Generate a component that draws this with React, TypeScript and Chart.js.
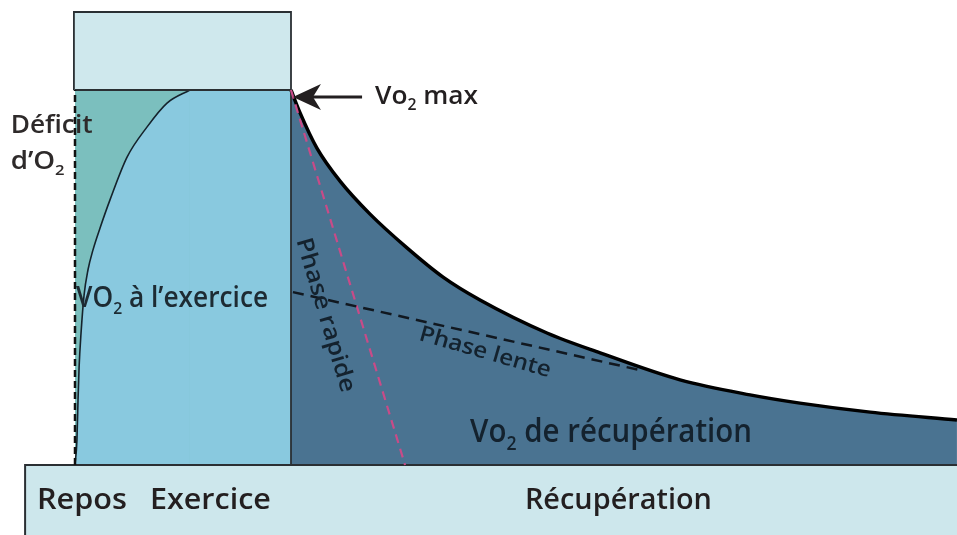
import React, { useEffect, useRef } from "react";
import { Chart, registerables } from "chart.js";

Chart.register(...registerables);

// Axis ranges: time in arbitrary units (exercise from 0 to 10), VO2 in % of VO2max
const X_MIN = -3.472;
const X_MAX = 40.833;
const Y_MIN = -18.667;
const Y_MAX = 124;

// Phases
const exerciseStart = 0;
const exerciseEnd = 10;
const vo2max = 100;
const restBarLeft = -2.31;
const topBoxLeft = -0.05;
const topBoxTop = 120.8;

// VO2 rise at exercise onset
const onsetT = [0, 0.09, 0.14, 0.19, 0.28, 0.42, 0.6, 0.83, 1.16, 1.62, 2.41, 3.33, 4.26, 5.32];
const onsetV = [0, 6.7, 17.3, 26.1, 35.2, 45.3, 52, 57.3, 63.2, 70.7, 82.1, 90.1, 96.5, 100];

// VO2 during recovery
const recoveryT = [10, 10.42, 11.2, 12.27, 13.66, 15.37, 17.04, 18.75, 21.85, 24.31, 28.01, 31.25, 33.56, 36.81, 40.83];
const recoveryV = [100, 93.9, 84.5, 75.7, 66.9, 57.9, 50.1, 44, 35.2, 29.9, 22.7, 18.7, 16.5, 14.1, 12];

// Fast and slow phase guide lines
const fastPhaseT = [10, 15.28];
const fastPhaseV = [100, 0];
const slowPhaseT = [10.09, 26.16];
const slowPhaseV = [46.1, 25.3];

// Colours
const C_TOPBOX = "#cfe8ed";
const C_BAR = "#cde7ec";
const C_EXERCISE = "#89c9df";
const C_DEFICIT = "#7bbfbe";
const C_RECOVERY = "#4a7391";
const C_INK = "#231f20";
const C_INK2 = "#14222e";
const C_PINK = "#c84b88";

const FONT = "'Open Sans', 'Noto Sans', sans-serif";

type Seg = { s: string; sub?: boolean };
type Label = {
  segs: Seg[];
  t: number;
  v: number;
  size: number;
  width: number;
  align: "left" | "center";
  baseline: CanvasTextBaseline;
  rotate: number;
  color: string;
};

const labels: Label[] = [
  { segs: [{ s: "Déficit" }], t: -2.98, v: 88.5, size: 25, width: 82, align: "left", baseline: "alphabetic", rotate: 0, color: "#2e2a2a" },
  { segs: [{ s: "d’O" }, { s: "2", sub: true }], t: -2.98, v: 78.9, size: 25, width: 54, align: "left", baseline: "alphabetic", rotate: 0, color: "#2e2a2a" },
  { segs: [{ s: "VO" }, { s: "2", sub: true }, { s: " à l’exercice" }], t: 0.05, v: 42.1, size: 28, width: 192, align: "left", baseline: "alphabetic", rotate: 0, color: "#1d2b33" },
  { segs: [{ s: "Vo" }, { s: "2", sub: true }, { s: " max" }], t: 13.89, v: 96.3, size: 26, width: 103, align: "left", baseline: "alphabetic", rotate: 0, color: C_INK },
  { segs: [{ s: "Phase rapide" }], t: 11.58, v: 40.0, size: 23, width: 160, align: "center", baseline: "middle", rotate: 73.5, color: C_INK2 },
  { segs: [{ s: "Phase lente" }], t: 18.98, v: 30.0, size: 22, width: 136, align: "center", baseline: "middle", rotate: 16, color: C_INK2 },
  { segs: [{ s: "Vo" }, { s: "2", sub: true }, { s: " de récupération" }], t: 18.29, v: 6.1, size: 32, width: 282, align: "left", baseline: "alphabetic", rotate: 0, color: C_INK2 },
  { segs: [{ s: "Repos" }], t: -1.76, v: -11.8, size: 29, width: 90, align: "left", baseline: "alphabetic", rotate: 0, color: C_INK },
  { segs: [{ s: "Exercice" }], t: 3.47, v: -11.8, size: 29, width: 121, align: "left", baseline: "alphabetic", rotate: 0, color: C_INK },
  { segs: [{ s: "Récupération" }], t: 20.83, v: -11.8, size: 29, width: 187, align: "left", baseline: "alphabetic", rotate: 0, color: C_INK },
];

// Arrow pointing to VO2max
const arrowTipT = 10.09;
const arrowTailT = 13.29;
const arrowV = 98.13;

function pts(ts: number[], vs: number[]) {
  return ts.map((t, i) => ({ x: t, y: vs[i] }));
}

function drawRich(ctx: CanvasRenderingContext2D, L: Label, x: number, y: number) {
  const subSize = L.size * 0.6;
  let natural = 0;
  const widths: number[] = [];
  for (const sg of L.segs) {
    ctx.font = `600 ${sg.sub ? subSize : L.size}px ${FONT}`;
    const w = ctx.measureText(sg.s).width;
    widths.push(w);
    natural += w;
  }
  const sx = L.width / natural;
  ctx.save();
  ctx.translate(x, y);
  ctx.rotate((L.rotate * Math.PI) / 180);
  ctx.scale(sx, 1);
  ctx.fillStyle = L.color;
  ctx.textBaseline = L.baseline;
  ctx.textAlign = "left";
  let cx = L.align === "center" ? -natural / 2 : 0;
  L.segs.forEach((sg, i) => {
    ctx.font = `600 ${sg.sub ? subSize : L.size}px ${FONT}`;
    ctx.fillText(sg.s, cx, sg.sub ? L.size * 0.25 : 0);
    cx += widths[i];
  });
  ctx.restore();
}

const textPlugin = {
  id: "diagramText",
  afterDatasetsDraw(chart: any) {
    const ctx: CanvasRenderingContext2D = chart.ctx;
    const xs = chart.scales.x;
    const ys = chart.scales.y;
    const tipX = xs.getPixelForValue(arrowTipT);
    const tailX = xs.getPixelForValue(arrowTailT);
    const ay = ys.getPixelForValue(arrowV);
    ctx.save();
    ctx.strokeStyle = C_INK;
    ctx.fillStyle = C_INK;
    ctx.lineWidth = 3;
    ctx.beginPath();
    ctx.moveTo(tipX + 16, ay);
    ctx.lineTo(tailX, ay);
    ctx.stroke();
    ctx.beginPath();
    ctx.moveTo(tipX, ay);
    ctx.lineTo(tipX + 28, ay - 13);
    ctx.lineTo(tipX + 20, ay);
    ctx.lineTo(tipX + 28, ay + 13);
    ctx.closePath();
    ctx.fill();
    ctx.restore();
    for (const L of labels) {
      drawRich(ctx, L, xs.getPixelForValue(L.t), ys.getPixelForValue(L.v));
    }
  },
};

export default function App() {
  const ref = useRef<HTMLCanvasElement | null>(null);
  useEffect(() => {
    if (!ref.current) return;
    const line = { pointRadius: 0, pointHoverRadius: 0, tension: 0 };
    const chart = new Chart(ref.current, {
      type: "line",
      data: {
        datasets: [
          { ...line, label: "slow", data: pts(slowPhaseT, slowPhaseV), borderColor: "#111820", borderWidth: 2.5, borderDash: [11, 7], fill: false, order: 1 },
          { ...line, label: "fast", data: pts(fastPhaseT, fastPhaseV), borderColor: C_PINK, borderWidth: 2.2, borderDash: [9, 6], fill: false, order: 2 },
          { ...line, label: "rest line", data: pts([exerciseStart, exerciseStart], [0, vo2max]), borderColor: "#111", borderWidth: 2.5, borderDash: [7, 4], fill: false, order: 3 },
          { ...line, label: "bar outline", data: pts([restBarLeft, restBarLeft, X_MAX], [Y_MIN, 0, 0]), borderColor: "#2a2f33", borderWidth: 2, fill: false, order: 4 },
          { ...line, label: "box outline", data: pts([topBoxLeft, topBoxLeft, exerciseEnd, exerciseEnd], [vo2max, topBoxTop, topBoxTop, 0]), borderColor: "#2a2f33", borderWidth: 1.8, fill: false, order: 5 },
          { ...line, label: "max line", data: pts([exerciseStart, exerciseEnd], [vo2max, vo2max]), borderColor: "#2a2f33", borderWidth: 2, fill: false, order: 6 },
          { ...line, label: "recovery", data: pts(recoveryT, recoveryV), cubicInterpolationMode: "monotone", tension: 0.4, borderColor: "#000", borderWidth: 3.5, backgroundColor: C_RECOVERY, fill: "origin", order: 7 },
          { ...line, label: "onset", data: pts(onsetT, onsetV), cubicInterpolationMode: "monotone", tension: 0.4, borderColor: "#15232c", borderWidth: 1.6, backgroundColor: C_EXERCISE, fill: "origin", order: 8 },
          { ...line, label: "deficit", data: pts([exerciseStart, onsetT[onsetT.length - 1]], [vo2max, vo2max]), borderWidth: 0, backgroundColor: C_DEFICIT, fill: "origin", order: 9 },
          { ...line, label: "exercise", data: pts([exerciseStart, exerciseEnd], [vo2max, vo2max]), borderWidth: 0, backgroundColor: C_EXERCISE, fill: "origin", order: 10 },
          { ...line, label: "bar", data: pts([restBarLeft, X_MAX], [Y_MIN, Y_MIN]), borderWidth: 0, backgroundColor: C_BAR, fill: { value: 0 }, order: 11 },
          { ...line, label: "top box", data: pts([topBoxLeft, exerciseEnd], [topBoxTop, topBoxTop]), borderWidth: 0, backgroundColor: C_TOPBOX, fill: { value: vo2max }, order: 12 },
        ] as any,
      },
      options: {
        animation: false,
        responsive: false,
        maintainAspectRatio: false,
        devicePixelRatio: 1,
        layout: { padding: 0 },
        events: [],
        plugins: { legend: { display: false }, tooltip: { enabled: false }, title: { display: false } },
        scales: {
          x: { type: "linear", min: X_MIN, max: X_MAX, display: false },
          y: { type: "linear", min: Y_MIN, max: Y_MAX, display: false },
        },
      },
      plugins: [textPlugin],
    });
    return () => chart.destroy();
  }, []);
  return (
    <div style={{ position: "fixed", left: 0, top: 0, width: 957, height: 535, background: "#fff" }}>
      <canvas ref={ref} width={957} height={535} style={{ width: 957, height: 535, display: "block" }} />
    </div>
  );
}
